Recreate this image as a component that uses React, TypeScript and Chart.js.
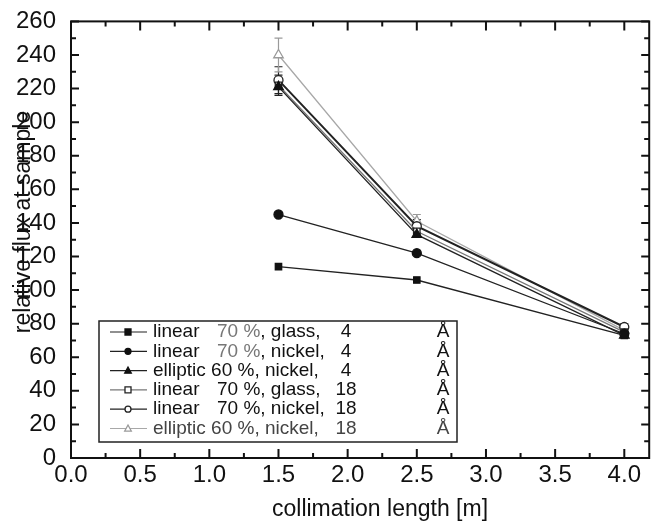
import React, { useEffect, useRef } from "react";
import { Chart, registerables } from "chart.js";

Chart.register(...registerables);

// collimation length [m]
const lengths = [1.5, 2.5, 4.0];

// relative flux at sample for each guide / wavelength combination
const linearGlass4 = [114, 106, 73];
const linearNickel4 = [145, 122, 74];
const elliptic4 = [221, 133, 73];
const linearGlass18 = [222, 135, 75];
const linearNickel18 = [225, 138, 78];
const elliptic18 = [240, 141, 76];

// error bars (half-widths) of the 18 Å measurements
const linearGlass18Err = [6, 3, 2];
const linearNickel18Err = [8, 4, 2];
const elliptic18Err = [10, 4, 2];

const guideNames = ["linear", "linear", "elliptic", "linear", "linear", "elliptic"];
const guideCoatings = ["70 %, glass,", "70 %, nickel,", "60 %, nickel,", "70 %, glass,", "70 %, nickel,", "60 %, nickel,"];
const wavelengths = ["4", "4", "4", "18", "18", "18"];

const FONT = "'Liberation Sans', Arial, Helvetica, sans-serif";

type Marker = { style: "rect" | "circle" | "triangle"; filled: boolean; color: string; line: string };

const markers: Marker[] = [
  { style: "rect", filled: true, color: "#111", line: "#222" },
  { style: "circle", filled: true, color: "#111", line: "#222" },
  { style: "triangle", filled: true, color: "#111", line: "#222" },
  { style: "rect", filled: false, color: "#222", line: "#777" },
  { style: "circle", filled: false, color: "#222", line: "#222" },
  { style: "triangle", filled: false, color: "#9a9a9a", line: "#a8a8a8" },
];

const series = [linearGlass4, linearNickel4, elliptic4, linearGlass18, linearNickel18, elliptic18];
const errors = [null, null, null, linearGlass18Err, linearNickel18Err, elliptic18Err];

function drawMarker(ctx: CanvasRenderingContext2D, m: Marker, x: number, y: number, r: number) {
  ctx.save();
  ctx.beginPath();
  if (m.style === "rect") {
    ctx.rect(x - r, y - r, 2 * r, 2 * r);
  } else if (m.style === "circle") {
    ctx.arc(x, y, r, 0, Math.PI * 2);
  } else {
    ctx.moveTo(x, y - r * 1.15);
    ctx.lineTo(x + r * 1.1, y + r * 0.85);
    ctx.lineTo(x - r * 1.1, y + r * 0.85);
    ctx.closePath();
  }
  ctx.fillStyle = m.filled ? m.color : "#fff";
  ctx.fill();
  ctx.lineWidth = 1.3;
  ctx.strokeStyle = m.color;
  ctx.stroke();
  ctx.restore();
}

const framePlugin = {
  id: "frameAndExtras",
  beforeDatasetsDraw(chart: any) {
    const { ctx } = chart;
    const xs = chart.scales.x;
    const ys = chart.scales.y;
    // error bars
    ctx.save();
    series.forEach((vals, i) => {
      const err = errors[i];
      if (!err) return;
      ctx.strokeStyle = markers[i].color;
      ctx.lineWidth = 1.2;
      vals.forEach((v, j) => {
        const px = xs.getPixelForValue(lengths[j]);
        const top = ys.getPixelForValue(v + err[j]);
        const bot = ys.getPixelForValue(v - err[j]);
        ctx.beginPath();
        ctx.moveTo(px, top);
        ctx.lineTo(px, bot);
        ctx.moveTo(px - 4, top);
        ctx.lineTo(px + 4, top);
        ctx.moveTo(px - 4, bot);
        ctx.lineTo(px + 4, bot);
        ctx.stroke();
      });
    });
    ctx.restore();
  },
  afterDraw(chart: any) {
    const { ctx, chartArea } = chart;
    const { left, right, top, bottom } = chartArea;
    const xs = chart.scales.x;
    const ys = chart.scales.y;
    ctx.save();
    ctx.strokeStyle = "#111";
    ctx.lineWidth = 2;
    ctx.strokeRect(left, top, right - left, bottom - top);

    // inward tick marks on all four sides
    ctx.lineWidth = 2;
    for (let v = 0; v <= 260; v += 10) {
      const py = ys.getPixelForValue(v);
      const len = v % 20 === 0 ? 8 : 5;
      ctx.beginPath();
      ctx.moveTo(left, py);
      ctx.lineTo(left + len, py);
      ctx.moveTo(right, py);
      ctx.lineTo(right - len, py);
      ctx.stroke();
    }
    for (let k = 0; k <= 16; k++) {
      const v = k * 0.25;
      const px = xs.getPixelForValue(v);
      const len = k % 2 === 0 ? 9 : 5;
      ctx.beginPath();
      ctx.moveTo(px, bottom);
      ctx.lineTo(px, bottom - len);
      ctx.moveTo(px, top);
      ctx.lineTo(px, top + len);
      ctx.stroke();
    }

    // legend box
    const bx = 99, by = 321, bw = 358, bh = 121;
    ctx.fillStyle = "#fff";
    ctx.fillRect(bx, by, bw, bh);
    ctx.lineWidth = 1.5;
    ctx.strokeStyle = "#222";
    ctx.strokeRect(bx, by, bw, bh);
    ctx.font = `19px ${FONT}`;
    ctx.textBaseline = "middle";
    for (let i = 0; i < 6; i++) {
      const ry = 332 + i * 19.3;
      const m = markers[i];
      ctx.strokeStyle = m.line;
      ctx.lineWidth = 1.2;
      ctx.beginPath();
      ctx.moveTo(110, ry);
      ctx.lineTo(147, ry);
      ctx.stroke();
      drawMarker(ctx, m, 128, ry, 3);
      const textColor = i === 5 ? "#444" : "#111";
      ctx.fillStyle = textColor;
      ctx.textAlign = "left";
      if (guideNames[i] === "elliptic") {
        ctx.fillText(`${guideNames[i]} ${guideCoatings[i]}`, 153, ry);
      } else {
        ctx.fillText(guideNames[i], 153, ry);
        ctx.fillStyle = i < 2 ? "#777" : textColor;
        const pct = guideCoatings[i].slice(0, 4);
        ctx.fillText(pct, 217, ry);
        const w = ctx.measureText(pct).width;
        ctx.fillStyle = textColor;
        ctx.fillText(guideCoatings[i].slice(4), 217 + w, ry);
      }
      ctx.textAlign = "center";
      ctx.fillText(wavelengths[i], 346, ry);
      ctx.fillText("Å", 443, ry);
    }

    // axis titles
    ctx.fillStyle = "#111";
    ctx.font = `23px ${FONT}`;
    ctx.textAlign = "center";
    ctx.textBaseline = "middle";
    ctx.fillText("collimation length [m]", 380, 510);
    ctx.translate(24, 222);
    ctx.rotate(-Math.PI / 2);
    ctx.fillText("relative flux at sample", 0, 0);
    ctx.restore();
  },
};

export default function App() {
  const ref = useRef<HTMLCanvasElement | null>(null);

  useEffect(() => {
    if (!ref.current) return;
    const datasets = series.map((vals, i) => {
      const m = markers[i];
      return {
        label: `${guideNames[i]} ${guideCoatings[i]} ${wavelengths[i]} Å`,
        data: vals.map((v, j) => ({ x: lengths[j], y: v })),
        borderColor: m.line,
        borderWidth: i === 4 ? 2 : 1.3,
        pointStyle: m.style,
        pointRadius: m.style === "triangle" ? 5.5 : 4.5,
        pointBorderWidth: 1.3,
        pointBorderColor: m.color,
        pointBackgroundColor: m.filled ? m.color : "#fff",
        showLine: true,
        fill: false,
      };
    });

    const chart = new Chart(ref.current, {
      type: "scatter",
      data: { datasets },
      options: {
        animation: false,
        responsive: false,
        layout: { padding: { left: 0, top: 20, right: 3, bottom: 0 } },
        plugins: { legend: { display: false }, tooltip: { enabled: false } },
        scales: {
          x: {
            type: "linear",
            min: 0,
            max: 4.18,
            grid: { display: false },
            border: { display: false },
            ticks: {
              stepSize: 0.5,
              includeBounds: false,
              padding: -5,
              color: "#111",
              font: { family: FONT, size: 24 },
              callback: (v: any) => Number(v).toFixed(1),
            },
            afterFit: (s: any) => {
              s.height = 66;
            },
          },
          y: {
            type: "linear",
            min: 0,
            max: 260,
            grid: { display: false },
            border: { display: false },
            ticks: {
              stepSize: 20,
              padding: 7,
              color: "#111",
              font: { family: FONT, size: 24 },
            },
            afterFit: (s: any) => {
              s.width = 71;
            },
          },
        },
      },
      plugins: [framePlugin],
    });
    return () => chart.destroy();
  }, []);

  return (
    <div style={{ position: "fixed", left: 0, top: 0, width: 656, height: 524, background: "#fff" }}>
      <canvas ref={ref} width={656} height={524} style={{ width: 656, height: 524 }} />
    </div>
  );
}
